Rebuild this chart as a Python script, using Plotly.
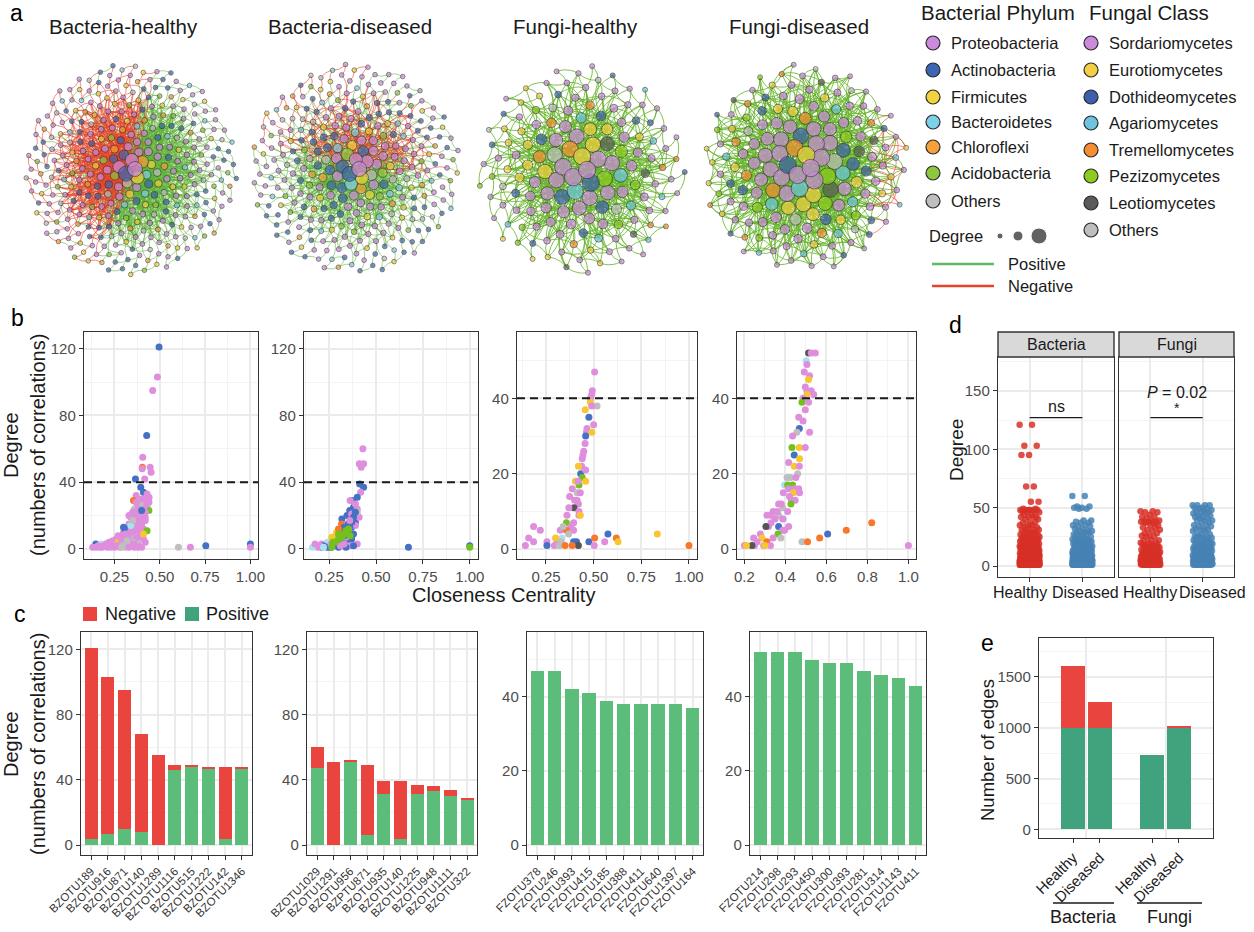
import numpy as np
import plotly.graph_objects as go

W, H = 1254, 932
FONT = "Liberation Sans, Arial, sans-serif"

# ──────────────────────────────
# data
# ──────────────────────────────
BAC_KEYS = ["Pro", "Act", "Fir", "Bac", "Chl", "Aci", "Oth"]
BAC_NAMES = ["Proteobacteria", "Actinobacteria", "Firmicutes", "Bacteroidetes",
             "Chloroflexi", "Acidobacteria", "Others"]
FUN_KEYS = ["Sor", "Eur", "Dot", "Aga", "Tre", "Pez", "Leo", "Oth"]
FUN_NAMES = ["Sordariomycetes", "Eurotiomycetes", "Dothideomycetes", "Agariomycetes",
             "Tremellomycetes", "Pezizomycetes", "Leotiomycetes", "Others"]

# panel b: (closeness centrality, degree, taxon)
B_BH = [
    (0.496, 121, "Act"), (0.487, 103, "Pro"), (0.461, 95, "Pro"), (0.428, 68, "Act"), (0.406, 55, "Pro"),
    (0.404, 49, "Chl"), (0.403, 48, "Pro"), (0.447, 49, "Pro"), (0.452, 46, "Pro"), (0.366, 42, "Act"),
    (0.417, 42, "Pro"), (0.395, 37, "Act"), (0.41, 34, "Act"), (0.441, 31, "Pro"), (0.37, 32, "Pro"),
    (0.405, 29, "Bac"), (0.355, 29, "Chl"), (0.39, 28, "Oth"), (0.40, 27, "Oth"), (0.375, 25, "Oth"),
    (0.415, 26, "Oth"), (0.43, 25, "Oth"), (0.44, 23, "Aci"), (0.36, 24, "Oth"), (0.35, 22, "Pro"),
    (0.38, 22, "Pro"), (0.42, 22, "Pro"), (0.40, 20, "Pro"), (0.36, 20, "Pro"), (0.34, 19, "Pro"),
    (0.39, 18, "Pro"), (0.42, 17, "Pro"), (0.37, 16, "Pro"), (0.33, 15, "Pro"), (0.40, 15, "Pro"),
    (0.35, 14, "Pro"), (0.38, 13, "Pro"), (0.32, 12, "Act"), (0.41, 12, "Pro"), (0.43, 11, "Aci"),
    (0.36, 11, "Pro"), (0.30, 10, "Pro"), (0.34, 9, "Pro"), (0.39, 9, "Pro"), (0.36, 8, "Oth"),
    (0.31, 8, "Fir"), (0.28, 7, "Pro"), (0.33, 6, "Pro"), (0.37, 6, "Pro"), (0.41, 6, "Pro"),
    (0.26, 6, "Pro"), (0.30, 5, "Pro"), (0.35, 4, "Oth"), (0.24, 5, "Pro"), (0.22, 4, "Pro"),
    (0.27, 4, "Fir"), (0.29, 3, "Oth"), (0.32, 3, "Pro"), (0.38, 3, "Pro"), (0.20, 3, "Pro"),
    (0.147, 3, "Act"), (0.175, 3, "Bac"), (0.16, 2, "Pro"), (0.19, 2, "Pro"), (0.23, 2, "Pro"),
    (0.26, 2, "Pro"), (0.30, 2, "Oth"), (0.34, 2, "Pro"), (0.13, 1, "Pro"), (0.15, 1, "Pro"),
    (0.18, 1, "Pro"), (0.21, 1, "Pro"), (0.25, 1, "Pro"), (0.28, 1, "Pro"), (0.31, 1, "Oth"),
    (0.36, 1, "Pro"), (0.40, 1, "Pro"), (0.33, 3, "Oth"), (0.37, 4, "Oth"), (0.30, 13, "Act"),
    (0.31, 11, "Act"), (0.27, 8, "Pro"), (0.33, 20, "Pro"), (0.38, 24, "Pro"), (0.42, 30, "Pro"),
    (0.32, 7, "Pro"), (0.34, 11, "Pro"), (0.36, 14, "Pro"), (0.38, 17, "Pro"), (0.39, 21, "Pro"),
    (0.41, 24, "Pro"), (0.43, 27, "Pro"), (0.40, 30, "Pro"), (0.37, 18, "Pro"), (0.35, 10, "Pro"),
    (0.33, 4, "Pro"), (0.29, 6, "Pro"), (0.31, 9, "Pro"), (0.39, 11, "Pro"), (0.42, 19, "Pro"),
    (0.38, 7, "Pro"), (0.36, 3, "Pro"), (0.27, 2, "Pro"), (0.23, 1, "Pro"), (0.17, 1, "Pro"),
    (0.33, 1, "Pro"), (0.38, 1, "Pro"), (0.42, 4, "Pro"), (0.41, 9, "Fir"), (0.34, 14, "Bac"),
    (0.40, 23, "Act"), (0.35, 17, "Oth"), (0.32, 5, "Oth"), (0.29, 1, "Oth"), (0.43, 33, "Pro"),
    (0.44, 28, "Pro"), (0.37, 28, "Pro"),
    (0.603, 1, "Oth"), (0.669, 1, "Pro"), (0.754, 2, "Act"), (1.0, 3, "Act"), (1.0, 1, "Pro"),
]
B_BD = [
    (0.430, 60, "Pro"), (0.411, 51, "Pro"), (0.434, 51, "Pro"), (0.421, 49, "Pro"), (0.413, 39, "Act"),
    (0.434, 37, "Act"), (0.418, 34, "Pro"), (0.375, 29, "Act"), (0.362, 29, "Pro"), (0.38, 25, "Act"),
    (0.40, 24, "Pro"), (0.36, 23, "Act"), (0.386, 20, "Act"), (0.371, 19, "Oth"), (0.345, 20, "Act"),
    (0.318, 18, "Act"), (0.39, 16, "Act"), (0.35, 15, "Act"), (0.316, 15, "Chl"), (0.33, 13, "Act"),
    (0.37, 13, "Act"), (0.39, 14, "Pro"), (0.41, 19, "Pro"), (0.40, 22, "Oth"), (0.37, 21, "Pro"),
    (0.29, 10, "Fir"), (0.31, 11, "Act"), (0.29, 7, "Act"), (0.27, 5, "Act"), (0.25, 3, "Act"),
    (0.23, 2, "Act"), (0.21, 1, "Act"), (0.33, 5, "Act"), (0.35, 4, "Act"), (0.37, 6, "Act"),
    (0.38, 9, "Act"), (0.30, 3, "Act"), (0.28, 2, "Pro"), (0.32, 2, "Pro"), (0.36, 2, "Pro"),
    (0.40, 3, "Pro"), (0.25, 1, "Pro"), (0.19, 1, "Pro"), (0.161, 1, "Bac"), (0.175, 3, "Pro"),
    (0.21, 3, "Pro"), (0.24, 4, "Bac"), (0.27, 3, "Oth"), (0.31, 4, "Pro"), (0.34, 7, "Pro"),
    (0.35, 11, "Pro"), (0.22, 2, "Act"), (0.26, 1, "Act"), (0.30, 1, "Act"), (0.34, 1, "Act"),
    (0.38, 2, "Act"), (0.28, 6, "Act"), (0.264, 7, "Fir"), (0.24, 1, "Act"), (0.27, 2, "Act"),
    (0.29, 4, "Act"), (0.31, 6, "Act"), (0.33, 8, "Act"), (0.35, 10, "Act"), (0.36, 13, "Act"),
    (0.37, 16, "Act"), (0.38, 19, "Act"), (0.39, 22, "Act"), (0.31, 2, "Pro"), (0.33, 3, "Pro"),
    (0.26, 3, "Pro"), (0.29, 8, "Fir"), (0.36, 17, "Pro"), (0.39, 27, "Pro"), (0.40, 31, "Act"),
    (0.20, 2, "Pro"), (0.22, 1, "Bac"), (0.30, 12, "Chl"), (0.30, 9, "Aci"), (0.34, 11, "Aci"),
    (0.27, 4, "Aci"), (0.354, 12, "Aci"), (0.341, 10, "Aci"), (0.318, 8, "Aci"), (0.30, 6, "Aci"),
    (0.282, 4, "Aci"), (0.264, 1, "Aci"), (0.362, 8, "Aci"), (0.33, 9, "Aci"), (0.32, 7, "Aci"),
    (0.673, 1, "Act"), (1.0, 2, "Act"), (1.0, 1, "Aci"),
]
B_FH = [
    (0.505, 47, "Sor"), (0.493, 42, "Sor"), (0.490, 41, "Sor"), (0.483, 40, "Sor"), (0.483, 39, "Eur"),
    (0.518, 38, "Oth"), (0.490, 38, "Sor"), (0.456, 37, "Eur"), (0.475, 35, "Dot"), (0.500, 33, "Sor"),
    (0.465, 32, "Sor"), (0.462, 31, "Sor"), (0.491, 31, "Eur"), (0.458, 30, "Dot"), (0.455, 28, "Sor"),
    (0.448, 26, "Sor"), (0.444, 25, "Sor"), (0.437, 22, "Sor"), (0.432, 20, "Dot"), (0.440, 19, "Pez"),
    (0.458, 21, "Sor"), (0.458, 18, "Eur"), (0.423, 17, "Pez"), (0.404, 18, "Eur"), (0.418, 18, "Sor"),
    (0.388, 16, "Sor"), (0.413, 15, "Oth"), (0.374, 14, "Sor"), (0.413, 13, "Sor"), (0.420, 12, "Sor"),
    (0.397, 11, "Leo"), (0.423, 10, "Sor"), (0.423, 9, "Sor"), (0.430, 9, "Eur"), (0.357, 7, "Pez"),
    (0.395, 7, "Sor"), (0.381, 6, "Sor"), (0.395, 5, "Sor"), (0.325, 5, "Sor"), (0.357, 5, "Tre"),
    (0.369, 4, "Oth"), (0.334, 3, "Aga"), (0.308, 2, "Sor"), (0.300, 3, "Eur"), (0.255, 2, "Sor"),
    (0.255, 1, "Dot"), (0.294, 1, "Sor"), (0.320, 1, "Oth"), (0.330, 2, "Oth"), (0.395, 2, "Dot"),
    (0.410, 2, "Dot"), (0.420, 1, "Leo"), (0.350, 1, "Tre"), (0.387, 1, "Tre"), (0.185, 6, "Sor"),
    (0.220, 5, "Sor"), (0.159, 3, "Sor"), (0.185, 2, "Sor"), (0.142, 1, "Sor"), (0.37, 11, "Sor"),
    (0.40, 13, "Sor"), (0.43, 15, "Sor"), (0.34, 6, "Oth"), (0.36, 9, "Sor"), (0.42, 22, "Eur"),
    (0.44, 24, "Sor"), (0.475, 2, "Dot"), (0.505, 3, "Tre"), (0.503, 1, "Sor"), (0.558, 2, "Sor"),
    (0.575, 4, "Dot"), (0.619, 3, "Tre"), (0.628, 2, "Eur"), (0.834, 4, "Eur"), (1.0, 1, "Tre"),
]
B_FD = [
    (0.513, 52, "Leo"), (0.526, 52, "Sor"), (0.546, 52, "Sor"), (0.502, 50, "Aga"), (0.505, 49, "Sor"),
    (0.492, 47, "Sor"), (0.518, 46, "Sor"), (0.513, 45, "Eur"), (0.497, 43, "Sor"), (0.505, 42, "Sor"),
    (0.526, 42, "Sor"), (0.538, 41, "Sor"), (0.505, 41, "Eur"), (0.486, 40, "Sor"), (0.481, 39, "Pez"),
    (0.513, 39, "Sor"), (0.497, 37, "Sor"), (0.465, 35, "Sor"), (0.486, 34, "Sor"), (0.468, 32, "Dot"),
    (0.456, 31, "Oth"), (0.518, 31, "Sor"), (0.435, 30, "Sor"), (0.432, 27, "Pez"), (0.468, 27, "Eur"),
    (0.497, 27, "Sor"), (0.443, 25, "Dot"), (0.469, 24, "Eur"), (0.416, 23, "Sor"), (0.443, 22, "Eur"),
    (0.468, 22, "Sor"), (0.460, 20, "Oth"), (0.408, 19, "Oth"), (0.424, 19, "Oth"), (0.451, 19, "Sor"),
    (0.396, 17, "Aga"), (0.411, 17, "Pez"), (0.435, 17, "Pez"), (0.416, 16, "Sor"), (0.445, 16, "Sor"),
    (0.465, 16, "Sor"), (0.440, 15, "Eur"), (0.390, 15, "Sor"), (0.469, 15, "Sor"), (0.429, 13, "Sor"),
    (0.448, 13, "Sor"), (0.427, 12, "Pez"), (0.367, 12, "Sor"), (0.387, 11, "Oth"), (0.411, 10, "Sor"),
    (0.340, 10, "Sor"), (0.310, 9, "Sor"), (0.367, 9, "Oth"), (0.391, 8, "Aga"), (0.387, 8, "Sor"),
    (0.330, 7, "Sor"), (0.318, 6, "Sor"), (0.305, 6, "Leo"), (0.367, 6, "Dot"), (0.416, 6, "Sor"),
    (0.396, 5, "Sor"), (0.387, 5, "Sor"), (0.364, 4, "Pez"), (0.378, 3, "Oth"), (0.340, 3, "Sor"),
    (0.278, 4, "Sor"), (0.245, 3, "Sor"), (0.286, 3, "Eur"), (0.310, 2, "Tre"), (0.262, 2, "Sor"),
    (0.294, 1, "Sor"), (0.249, 1, "Sor"), (0.237, 1, "Leo"), (0.200, 1, "Sor"), (0.210, 1, "Eur"),
    (0.327, 1, "Sor"), (0.300, 1, "Eur"), (0.35, 8, "Sor"), (0.33, 9, "Sor"), (0.36, 10, "Sor"),
    (0.42, 14, "Sor"), (0.38, 12, "Sor"), (0.481, 2, "Oth"), (0.508, 2, "Tre"), (0.567, 3, "Tre"),
    (0.606, 4, "Dot"), (0.697, 5, "Tre"), (0.821, 7, "Tre"), (1.0, 1, "Sor"),
]

# panel c: top-10 hubs, positive / negative degree
C_BH_OTU = ["BZOTU189", "BZOTU916", "BZOTU871", "BZOTU140", "BZOTU1289",
            "BZTOTU1116", "BZOTU515", "BZOTU1222", "BZOTU142", "BZOTU1346"]
C_BH_POS = [4, 7, 10, 8, 0, 46, 48, 47, 4, 47]
C_BH_NEG = [117, 96, 85, 60, 55, 3, 1, 1, 44, 1]
C_BD_OTU = ["BZOTU1029", "BZOTU1291", "BZOTU956", "BZPTU871", "BZOTU935",
            "BZOTU140", "BZOTU1225", "BZOTU948", "BZOTU1111", "BZOTU322"]
C_BD_POS = [47, 0, 51, 6, 31, 4, 31, 33, 30, 28]
C_BD_NEG = [13, 51, 1, 43, 8, 35, 6, 3, 4, 1]
C_FH_OTU = ["FZOTU378", "FZOTU246", "FZOTU393", "FZOTU415", "FZOTU185",
            "FZOTU388", "FZOTU411", "FZOTU640", "FZOTU1397", "FZOTU164"]
C_FH_POS = [47, 47, 42, 41, 39, 38, 38, 38, 38, 37]
C_FH_NEG = [0] * 10
C_FD_OTU = ["FZOTU214", "FZOTU298", "FZOTU293", "FZOTU450", "FZOTU300",
            "FZOTU393", "FZOTU281", "FZOTU314", "FZOTU1143", "FZOTU411"]
C_FD_POS = [52, 52, 52, 50, 49, 49, 47, 46, 45, 43]
C_FD_NEG = [0] * 10

# panel d: node degree -> number of points
D_BH = {121: 2, 103: 2, 95: 2, 68: 2, 55: 2, 49: 2, 48: 6, 47: 2, 46: 2, 44: 2, 42: 4, 40: 2,
        37: 3, 35: 3, 33: 3, 31: 4, 29: 4, 27: 5, 25: 6, 23: 6, 21: 8, 19: 9, 17: 10, 15: 12,
        13: 14, 11: 16, 9: 20, 7: 24, 5: 30, 4: 20, 3: 32, 2: 36, 1: 50}
D_BD = {60: 2, 51: 2, 50: 2, 49: 2, 39: 2, 38: 1, 37: 2, 35: 2, 34: 2, 32: 2, 30: 3, 29: 3,
        27: 3, 25: 4, 23: 5, 21: 6, 19: 7, 17: 8, 15: 10, 13: 12, 11: 14, 9: 18, 7: 24, 5: 30,
        4: 22, 3: 32, 2: 36, 1: 48}
D_FH = {47: 2, 46: 2, 44: 1, 42: 2, 41: 1, 39: 2, 38: 4, 37: 2, 35: 2, 33: 2, 31: 2, 30: 1,
        28: 2, 26: 2, 25: 2, 22: 3, 20: 3, 18: 5, 16: 6, 14: 6, 12: 7, 10: 8, 8: 9, 6: 10,
        5: 8, 4: 10, 3: 12, 2: 14, 1: 18}
D_FD = {52: 4, 50: 2, 49: 2, 48: 1, 47: 2, 46: 2, 45: 2, 43: 2, 42: 2, 41: 2, 39: 3, 37: 2,
        35: 2, 34: 2, 32: 2, 31: 2, 30: 2, 27: 3, 25: 3, 24: 3, 22: 4, 20: 4, 19: 4, 17: 5,
        16: 5, 15: 5, 13: 5, 12: 5, 10: 6, 9: 6, 8: 6, 7: 6, 6: 6, 5: 7, 4: 8, 3: 9, 2: 10, 1: 14}

# panel e: number of edges
E_GROUP = ["Bacteria", "Bacteria", "Fungi", "Fungi"]
E_STATUS = ["Healthy", "Diseased", "Healthy", "Diseased"]
E_POS = [1000, 993, 730, 1000]
E_NEG = [608, 264, 0, 20]

# panel a: taxon share of network nodes
NET_TITLES = ["Bacteria-healthy", "Bacteria-diseased", "Fungi-healthy", "Fungi-diseased"]
SHARE_BH = {"Pro": 0.42, "Act": 0.20, "Fir": 0.12, "Bac": 0.06, "Chl": 0.07, "Aci": 0.06, "Oth": 0.07}
SHARE_BD = {"Pro": 0.40, "Act": 0.25, "Fir": 0.10, "Bac": 0.07, "Chl": 0.05, "Aci": 0.07, "Oth": 0.06}
SHARE_FH = {"Sor": 0.50, "Eur": 0.14, "Dot": 0.10, "Aga": 0.07, "Tre": 0.06, "Pez": 0.06, "Leo": 0.03, "Oth": 0.04}
SHARE_FD = {"Sor": 0.50, "Eur": 0.13, "Dot": 0.10, "Aga": 0.07, "Tre": 0.07, "Pez": 0.06, "Leo": 0.03, "Oth": 0.04}

# ──────────────────────────────
# colours / helpers
# ──────────────────────────────
NET_COL = {"Pro": "#CC8ADD", "Act": "#3C66B1", "Fir": "#F2D33D", "Bac": "#7ECFE8", "Chl": "#F5A03A",
           "Aci": "#8DC63F", "Oth": "#BEBEBE", "Sor": "#CC8ADD", "Eur": "#F4CF45", "Dot": "#3C5FAE",
           "Aga": "#6EC4E0", "Tre": "#F58D33", "Pez": "#8DCB1E", "Leo": "#5A5A5A"}
PT_COL = {"Pro": "#DE8EDC", "Act": "#4471C4", "Fir": "#F8C630", "Bac": "#A8E2EE", "Chl": "#F8772A",
          "Aci": "#73C11C", "Oth": "#BFBFBF", "Sor": "#DE8EDC", "Eur": "#F8C630", "Dot": "#4471C4",
          "Aga": "#A8E2EE", "Tre": "#F8772A", "Pez": "#73C11C", "Leo": "#555555"}
RED, GREEN_BAR, GREEN_DARK = "#E9443D", "#5BBD79", "#41A37E"
GRID, MINOR, FRAME, TICKC = "#EBEBEB", "#F3F3F3", "#333333", "#4D4D4D"


def xd(x0, x1):
    return [x0 / W, x1 / W]


def yd(y0, y1):
    return [1 - y1 / H, 1 - y0 / H]


def expand(freq):
    out = []
    for d, n in freq.items():
        out += [d] * n
    return out


def interleave(shares, n):
    keys = list(shares)
    counts = [int(round(shares[k] * n)) for k in keys]
    counts[0] += n - sum(counts)
    seq = sorted(((j + 0.5) / c, ki) for ki, c in enumerate(counts) for j in range(c))
    return [keys[ki] for _, ki in seq]


def network(freq, shares, n_pos, n_neg, cx, cy, R, ndir, mix, green, ewidth, smax, sexp):
    deg = np.array(sorted(expand(freq), reverse=True), dtype=float)
    n = deg.size
    i = np.arange(n)
    rad = R * np.sqrt((i + 0.5) / n)       # hubs in the middle, sunflower layout
    ang = i * 2.399963
    x = cx + rad * np.cos(ang)
    y = cy + rad * np.sin(ang)
    cats = interleave(shares, n)

    # link every node to a spread of its neighbours (every 3rd nearest)
    dist = np.hypot(x[:, None] - x[None, :], y[:, None] - y[None, :])
    np.fill_diagonal(dist, np.inf)
    edges = set()
    for a in range(n):
        k = int(np.ceil(deg[a] / 2))
        for b in np.argsort(dist[a])[2::3][:k]:
            edges.add((min(a, int(b)), max(a, int(b))))
    e = np.array(sorted(edges))
    p0 = np.c_[x[e[:, 0]], y[e[:, 0]]]
    p1 = np.c_[x[e[:, 1]], y[e[:, 1]]]
    mid = (p0 + p1) / 2
    v = p1 - p0
    perp = np.c_[-v[:, 1], v[:, 0]]
    sign = np.where(np.arange(len(e)) % 2 == 0, 1.0, -1.0)
    ctrl = mid + perp * 0.22 * sign[:, None]
    t = np.linspace(0, 1, 9)[None, :, None]
    curve = (1 - t) ** 2 * p0[:, None, :] + 2 * (1 - t) * t * ctrl[:, None, :] + t ** 2 * p1[:, None, :]

    neg = np.zeros(len(e), bool)
    share = n_neg / (n_pos + n_neg)
    if share > 0:
        d = np.array(ndir, float) / np.hypot(*ndir)
        proj = (mid - [cx, cy]) @ d
        thr = np.quantile(proj, 1 - min(1.0, share / mix))
        inside = np.where(proj >= thr)[0]
        cnt = np.arange(len(inside))
        neg[inside[np.floor((cnt + 1) * mix) > np.floor(cnt * mix)]] = True

    def path(mask):
        c = curve[mask]
        pad = np.full((c.shape[0], 1, 2), np.nan)
        c = np.concatenate([c, pad], axis=1).reshape(-1, 2)
        return [None if np.isnan(q) else round(float(q), 2) for q in c[:, 0]], \
               [None if np.isnan(q) else round(float(q), 2) for q in c[:, 1]]

    out = []
    gx, gy = path(~neg)
    out.append(go.Scatter(x=gx, y=gy, mode="lines", line=dict(color=green, width=ewidth),
                          hoverinfo="skip", showlegend=False))
    if neg.any():
        rx, ry = path(neg)
        out.append(go.Scatter(x=rx, y=ry, mode="lines", line=dict(color="rgba(232,67,42,0.85)", width=0.7),
                              hoverinfo="skip", showlegend=False))
    size = 4.5 + (smax - 4.5) * (deg / deg.max()) ** sexp
    out.append(go.Scatter(x=x[::-1], y=y[::-1], mode="markers",
                          marker=dict(size=size[::-1], color=[NET_COL[c] for c in cats[::-1]],
                                      line=dict(color="#2B2B2B", width=0.8)),
                          hoverinfo="skip", showlegend=False))
    return out


fig = go.Figure()
ann = []
shapes = []


def text(x, y, s, size=16, color="#1A1A1A", xanchor="center", angle=0, **kw):
    ann.append(dict(x=x / W, y=1 - y / H, xref="paper", yref="paper", text=s, showarrow=False,
                    xanchor=xanchor, yanchor="middle", textangle=angle,
                    font=dict(size=size, color=color, family=FONT), **kw))


# ── panel a: networks + legend (axis 1 = pixel space) ──
NET_C = [(131, 169), (355, 169), (581, 170), (805, 168)]
NET_R = [106, 105, 105, 104]
NET_DIR = [(-1, -0.3), (0.15, -1), (1, 0.1), (1, 0.1)]
NET_MIX = [0.85, 0.5, 0.5, 0.5]
NET_GREEN = ["rgba(95,178,55,0.8)", "rgba(95,178,55,0.8)", "rgba(100,180,40,0.9)", "rgba(100,180,40,0.9)"]
NET_EW = [0.7, 0.7, 0.9, 0.9]
NET_SMAX = [15, 15, 17.5, 17.5]
NET_SEXP = [1.15, 1.15, 0.85, 0.85]
TITLE_X = [123, 350, 575, 799]
for k, (freq, sh) in enumerate(zip([D_BH, D_BD, D_FH, D_FD], [SHARE_BH, SHARE_BD, SHARE_FH, SHARE_FD])):
    for tr in network(freq, sh, E_POS[k], E_NEG[k], NET_C[k][0], NET_C[k][1], NET_R[k],
                      NET_DIR[k], NET_MIX[k], NET_GREEN[k], NET_EW[k], NET_SMAX[k], NET_SEXP[k]):
        tr.update(xaxis="x", yaxis="y")
        fig.add_trace(tr)
    text(TITLE_X[k], 27, NET_TITLES[k], size=20.5)

LEG_Y_B = [43, 70, 97, 122, 147, 173, 201]
LEG_Y_F = [43, 70, 97, 123, 150, 176, 203, 230]
fig.add_trace(go.Scatter(x=[933] * 7, y=LEG_Y_B, mode="markers", hoverinfo="skip", showlegend=False,
                         marker=dict(size=14, color=[NET_COL[c] for c in BAC_KEYS],
                                     line=dict(color="#2B2B2B", width=1.2))))
fig.add_trace(go.Scatter(x=[1091] * 8, y=LEG_Y_F, mode="markers", hoverinfo="skip", showlegend=False,
                         marker=dict(size=14, color=[NET_COL[c] for c in FUN_KEYS],
                                     line=dict(color="#2B2B2B", width=1.2))))
fig.add_trace(go.Scatter(x=[1000, 1018, 1039], y=[236, 236, 236], mode="markers", hoverinfo="skip",
                         showlegend=False, marker=dict(size=[6, 10, 16], color="#231F20")))
fig.add_trace(go.Scatter(x=[932, 994], y=[264, 264], mode="lines", line=dict(color="#5DBB68", width=2.5),
                         hoverinfo="skip", showlegend=False))
fig.add_trace(go.Scatter(x=[932, 994], y=[286, 286], mode="lines", line=dict(color="#E8432A", width=2.5),
                         hoverinfo="skip", showlegend=False))
text(919, 12, "Bacterial Phylum", size=20.5, xanchor="left")
text(1087, 12, "Fungal Class", size=20.5, xanchor="left")
for yy, nm in zip(LEG_Y_B, BAC_NAMES):
    text(949, yy, nm, size=16.5, xanchor="left")
for yy, nm in zip(LEG_Y_F, FUN_NAMES):
    text(1107, yy, nm, size=16.5, xanchor="left")
text(927, 236, "Degree", size=16.5, xanchor="left")
text(1006, 264, "Positive", size=16.5, xanchor="left")
text(1006, 286, "Negative", size=16.5, xanchor="left")

axes = dict(
    xaxis=dict(domain=[0, 1], range=[0, W], visible=False, fixedrange=True, automargin=False),
    yaxis=dict(domain=yd(0, 300), range=[300, 0], visible=False, fixedrange=True, automargin=False),
)

BASE = dict(showline=True, mirror=True, linecolor=FRAME, linewidth=1.4, ticks="outside", ticklen=4,
            tickcolor=FRAME, tickwidth=1.1, tickfont=dict(size=15, color=TICKC, family=FONT),
            showgrid=True, gridcolor=GRID, gridwidth=1.5, zeroline=False, automargin=False)


def ax(dom, rng, **kw):
    d = dict(BASE)
    d.update(domain=dom, range=rng)
    d.update(kw)
    return d


def minor(t0, dt):
    return dict(tick0=t0, dtick=dt, showgrid=True, gridcolor=MINOR, gridwidth=0.9)


# ── panel b ──
B_SETS = [B_BH, B_BD, B_FH, B_FD]
B_XDOM = [(84, 258), (304, 478), (517, 697), (737, 916)]
B_XR = [[0.082, 1.042], [0.116, 1.044], [0.098, 1.042], [0.164, 1.037]]
for k in range(4):
    n = k + 2
    pts = B_SETS[k]
    fig.add_trace(go.Scatter(x=[p[0] for p in pts], y=[p[1] for p in pts], mode="markers",
                             marker=dict(size=7, color=[PT_COL[p[2]] for p in pts]),
                             xaxis=f"x{n}", yaxis=f"y{n}", hoverinfo="skip", showlegend=False))
    if k < 3:
        xt = dict(tickvals=[0.25, 0.5, 0.75, 1.0], ticktext=["0.25", "0.50", "0.75", "1.00"],
                  minor=minor(0.125, 0.25))
    else:
        xt = dict(tickvals=[0.2, 0.4, 0.6, 0.8, 1.0], ticktext=["0.2", "0.4", "0.6", "0.8", "1.0"],
                  minor=minor(0.1, 0.2))
    if k < 2:
        yr, yt = [-6, 130], dict(tickvals=[0, 40, 80, 120], minor=minor(20, 40))
    else:
        yr, yt = [-2.6, 57.6], dict(tickvals=[0, 20, 40], minor=minor(10, 20))
    axes[f"xaxis{n}"] = ax(xd(*B_XDOM[k]), B_XR[k], anchor=f"y{n}", **xt)
    axes[f"yaxis{n}"] = ax(yd(332, 559), yr, anchor=f"x{n}", **yt)
    shapes.append(dict(type="line", xref=f"x{n} domain", yref=f"y{n}", x0=0, x1=1, y0=40, y1=40,
                       line=dict(color="#1A1A1A", width=2, dash="8px,5px")))
text(17, 318, "b", size=23, color="black")
text(11, 445, "Degree", size=20, angle=-90)
text(38, 445, "(numbers of correlations)", size=20, angle=-90)
text(503, 595, "Closeness Centrality", size=20)

# ── panel c ──
C_OTU = [C_BH_OTU, C_BD_OTU, C_FH_OTU, C_FD_OTU]
C_POS = [C_BH_POS, C_BD_POS, C_FH_POS, C_FD_POS]
C_NEG = [C_BH_NEG, C_BD_NEG, C_FH_NEG, C_FD_NEG]
C_XDOM = [(81, 252), (307, 477), (527, 703), (750, 926)]
for k in range(4):
    n = k + 6
    xs = list(range(1, 11))
    fig.add_trace(go.Bar(x=xs, y=C_POS[k], width=0.78, marker=dict(color=GREEN_BAR, line=dict(width=0)),
                         xaxis=f"x{n}", yaxis=f"y{n}", hoverinfo="skip", showlegend=False))
    fig.add_trace(go.Bar(x=xs, y=C_NEG[k], width=0.78, marker=dict(color=RED, line=dict(width=0)),
                         xaxis=f"x{n}", yaxis=f"y{n}", hoverinfo="skip", showlegend=False))
    if k < 2:
        yr, yt = [-6.1, 130.6], dict(tickvals=[0, 40, 80, 120], minor=minor(20, 40))
    else:
        yr, yt = [-2.7, 57.5], dict(tickvals=[0, 20, 40], minor=minor(10, 20))
    axes[f"xaxis{n}"] = ax(xd(*C_XDOM[k]), [0.4, 10.6], anchor=f"y{n}", tickvals=xs,
                           ticktext=C_OTU[k], tickangle=-45,
                           tickfont=dict(size=11.5, color="#333333", family=FONT))
    axes[f"yaxis{n}"] = ax(yd(632, 855), yr, anchor=f"x{n}", **yt)
text(20, 614, "c", size=23, color="black")
text(11, 744, "Degree", size=20, angle=-90)
text(38, 744, "(numbers of correlations)", size=20, angle=-90)
shapes.append(dict(type="rect", xref="paper", yref="paper", x0=83 / W, x1=97 / W, y0=1 - 621 / H,
                   y1=1 - 607 / H, fillcolor=RED, line=dict(width=0)))
shapes.append(dict(type="rect", xref="paper", yref="paper", x0=185 / W, x1=199 / W, y0=1 - 621 / H,
                   y1=1 - 607 / H, fillcolor=GREEN_DARK, line=dict(width=0)))
text(103, 614, "Negative", size=18, xanchor="left")
text(204, 614, "Positive", size=18, xanchor="left")

# ── panel d ──
D_SETS = [(D_BH, D_BD), (D_FH, D_FD)]
D_XDOM = [(998, 1114), (1119, 1234)]
D_STRIP = ["Bacteria", "Fungi"]
D_COL = ["#D73027", "#4682B4"]
D_LABEL_X = [(1020, 1085), (1150, 1212)]
for k in range(2):
    n = k + 10
    for g, freq in enumerate(D_SETS[k]):
        vals = expand(freq)
        idx = np.arange(len(vals))
        jit = ((idx * 0.618034) % 1.0 - 0.5) * 0.38
        fig.add_trace(go.Scatter(x=(g + 1 + jit).tolist(), y=vals, mode="markers",
                                 marker=dict(size=6.5, color=D_COL[g], opacity=0.85),
                                 xaxis=f"x{n}", yaxis=f"y{n}", hoverinfo="skip", showlegend=False))
    axes[f"xaxis{n}"] = ax(xd(*D_XDOM[k]), [0.4, 2.6], anchor=f"y{n}", tickvals=[1, 2],
                           showticklabels=False)
    yk = dict(tickvals=[0, 50, 100, 150], minor=minor(25, 50))
    if k == 1:
        yk.update(showticklabels=False, ticks="")
    axes[f"yaxis{n}"] = ax(yd(357, 577), [-9.4, 179], anchor=f"x{n}", **yk)
    x0, x1 = D_XDOM[k]
    shapes.append(dict(type="rect", xref="paper", yref="paper", x0=x0 / W, x1=x1 / W,
                       y0=1 - 357 / H, y1=1 - 332 / H, fillcolor="#D9D9D9",
                       line=dict(color=FRAME, width=1.4)))
    text((x0 + x1) / 2, 344.5, D_STRIP[k], size=16)
    shapes.append(dict(type="line", xref=f"x{n}", yref=f"y{n}", x0=1, x1=2, y0=127, y1=127,
                       line=dict(color="#1A1A1A", width=1.3)))
    for lx, lab in zip(D_LABEL_X[k], ["Healthy", "Diseased"]):
        text(lx, 592, lab, size=16)
ann.append(dict(x=1.5, y=128, xref="x10", yref="y10", text="ns", showarrow=False, yanchor="bottom",
                font=dict(size=16, color="#1A1A1A", family=FONT)))
ann.append(dict(x=1.5, y=135, xref="x11", yref="y11", text="*", showarrow=False, yanchor="middle",
                font=dict(size=14, color="#1A1A1A", family=FONT)))
ann.append(dict(x=1.5, y=149, xref="x11", yref="y11", text="<i>P</i> = 0.02", showarrow=False,
                yanchor="middle", font=dict(size=16, color="#1A1A1A", family=FONT)))
text(955, 325, "d", size=23, color="black")
text(956, 450, "Degree", size=19, angle=-90)

# ── panel e ──
E_GROUPS = ["Bacteria", "Fungi"]
ex = [E_GROUPS.index(g) + 1 + (-0.17 if s == "Healthy" else 0.17) for g, s in zip(E_GROUP, E_STATUS)]
fig.add_trace(go.Bar(x=ex, y=E_POS, width=0.3, marker=dict(color=GREEN_DARK, line=dict(width=0)),
                     xaxis="x12", yaxis="y12", hoverinfo="skip", showlegend=False))
fig.add_trace(go.Bar(x=ex, y=E_NEG, width=0.3, marker=dict(color=RED, line=dict(width=0)),
                     xaxis="x12", yaxis="y12", hoverinfo="skip", showlegend=False))
axes["xaxis12"] = ax(xd(1039, 1213), [0.4, 2.6], anchor="y12", tickvals=ex, ticktext=E_STATUS,
                     tickangle=-45, showgrid=False, minor=minor(0, 1) | dict(gridcolor=GRID, gridwidth=1.5),
                     tickfont=dict(size=15, color="#1A1A1A", family=FONT))
axes["yaxis12"] = ax(yd(638, 838), [-85, 1882], anchor="x12", tickvals=[0, 500, 1000, 1500],
                     minor=minor(250, 500))
text(987, 643, "e", size=23, color="black")
text(987, 750, "Number of edges", size=18.5, angle=-90)
for (x0, x1), lab in zip([(1053, 1114), (1137, 1202)], E_GROUPS):
    shapes.append(dict(type="line", xref="paper", yref="paper", x0=x0 / W, x1=x1 / W,
                       y0=1 - 903 / H, y1=1 - 903 / H, line=dict(color="#1A1A1A", width=1.3)))
    text((x0 + x1) / 2, 917, lab, size=18)

text(16, 13, "a", size=23, color="black")

fig.update_layout(template="none", width=W, height=H, margin=dict(l=0, r=0, t=0, b=0, pad=0),
                  paper_bgcolor="white", plot_bgcolor="white", barmode="stack", showlegend=False,
                  font=dict(family=FONT, color="#1A1A1A"), annotations=ann, shapes=shapes, **axes)

# the page body has a default 8px margin; drop it so the figure sits at the window origin
fig.write_html("out.html", config={"displayModeBar": False},
               post_script="document.body.style.margin='0px';")
